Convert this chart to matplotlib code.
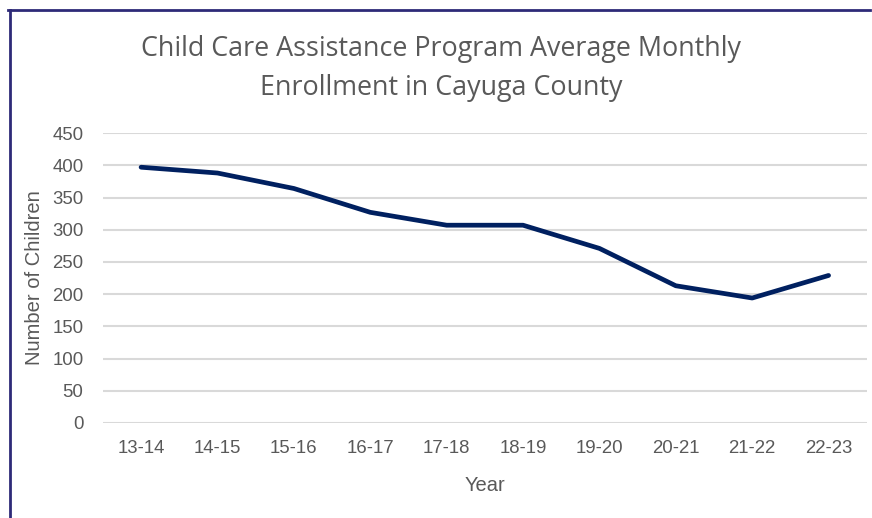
import matplotlib.pyplot as plt
from matplotlib.lines import Line2D

# Data
years = ['13-14', '14-15', '15-16', '16-17', '17-18', '18-19', '19-20', '20-21', '21-22', '22-23']
children = [397, 388, 364, 327, 307, 307, 271, 213, 194, 229]
y_ticks = [0, 50, 100, 150, 200, 250, 300, 350, 400, 450]

grey = '#595959'

fig = plt.figure(figsize=(8.72, 5.18), dpi=100)
ax = fig.add_axes([0.118, 0.1834, 0.876, 0.5597])

x = range(len(years))
ax.plot(x, children, color='#002060', linewidth=3.4,
        solid_joinstyle='round', solid_capstyle='round', zorder=3)

ax.set_xlim(-0.5, len(years) - 0.5)
ax.set_ylim(0, 450)
ax.set_yticks(y_ticks)
ax.set_xticks(list(x))
ax.set_xticklabels(years)
ax.grid(axis='y', color='#d9d9d9', linewidth=1.5)
ax.set_axisbelow(True)
for s in ax.spines.values():
    s.set_visible(False)
ax.tick_params(length=0, labelsize=13.4, labelcolor=grey)
ax.tick_params(axis='x', pad=12)
ax.tick_params(axis='y', pad=14)
for lab in ax.get_xticklabels() + ax.get_yticklabels():
    lab.set_family('Liberation Sans')

ax.set_xlabel('Year', fontsize=14.5, color=grey, family='Liberation Sans', labelpad=14)
ax.set_ylabel('Number of Children', fontsize=14.5, color=grey, family='Liberation Sans', labelpad=6)

fig.text(0.506, 0.868, 'Child Care Assistance Program Average Monthly\nEnrollment in Cayuga County',
         ha='center', va='center', fontsize=19.4, color=grey, family='Open Sans',
         linespacing=1.55)

# border of the chart image (top and left edges visible)
border = '#2e2a78'
fig.add_artist(Line2D([8 / 872, 870 / 872], [1 - 10 / 518] * 2, color=border, linewidth=2,
                      transform=fig.transFigure))
fig.add_artist(Line2D([10 / 872] * 2, [1 - 10 / 518, 0], color=border, linewidth=2,
                      transform=fig.transFigure))

fig.savefig('out.png', dpi=100)
